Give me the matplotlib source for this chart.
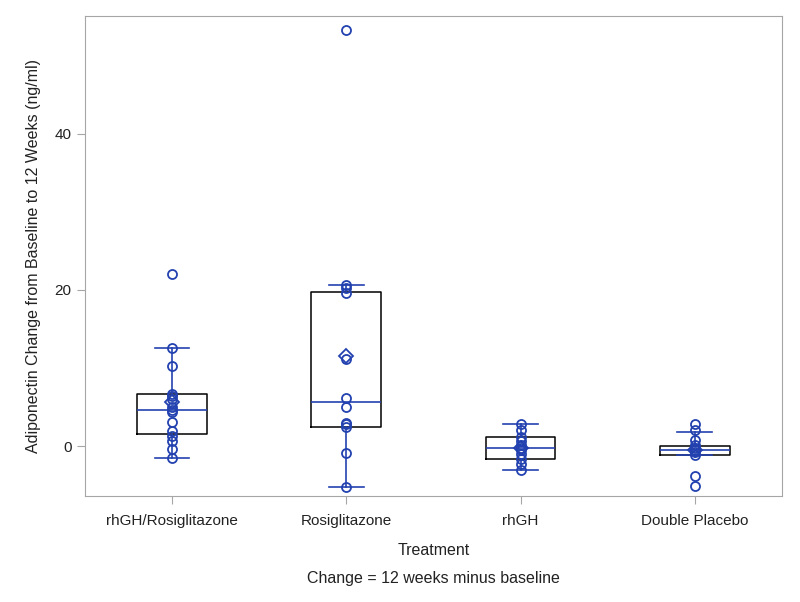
import matplotlib
matplotlib.use("Agg")
import matplotlib.pyplot as plt
import numpy as np

plt.rcParams['font.family'] = ['Liberation Sans', 'DejaVu Sans']

treatments = ["rhGH/Rosiglitazone", "Rosiglitazone", "rhGH", "Double Placebo"]

# box statistics
q1 = [1.5, 2.5, -1.6, -1.1]
median = [4.6, 5.6, -0.2, -0.5]
q3 = [6.7, 19.8, 1.2, 0.05]
whis_lo = [-1.5, -5.2, -3.1, -1.1]
whis_hi = [12.6, 20.6, 2.8, 1.8]
means = [5.6, 11.5, -0.2, -0.5]

# individual observations
obs_combo = [22.0, 12.6, 10.2, 6.7, 6.4, 6.0, 5.0, 4.6, 4.4, 3.1, 1.9, 1.3, 0.6, -0.4, -1.5]
obs_rosi = [53.3, 20.6, 20.2, 19.6, 11.2, 6.2, 5.0, 3.0, 2.8, 2.5, -0.9, -5.2]
obs_rhgh = [2.8, 2.0, 1.2, 0.6, 0.2, -0.2, -0.5, -1.0, -1.6, -2.3, -3.1]
obs_placebo = [2.8, 2.0, 0.8, 0.1, -0.3, -0.5, -0.7, -1.2, -3.8, -5.1]
observations = [obs_combo, obs_rosi, obs_rhgh, obs_placebo]

blue = "#2342b0"
grey = "#a6a6a6"

fig = plt.figure(figsize=(8, 6.02), dpi=100)
ax = fig.add_axes([0.106, 0.176, 0.8715, 0.7974])

stats = []
for i, name in enumerate(treatments):
    stats.append({"label": name, "q1": q1[i], "med": median[i], "q3": q3[i],
                  "whislo": whis_lo[i], "whishi": whis_hi[i],
                  "mean": means[i], "fliers": []})

pos = np.arange(len(treatments))
ax.bxp(stats, positions=pos, widths=0.4, showmeans=True, showfliers=False,
       boxprops=dict(color="black", linewidth=1.1),
       medianprops=dict(color=blue, linewidth=1.2),
       whiskerprops=dict(color=blue, linewidth=1.2),
       capprops=dict(color=blue, linewidth=1.2),
       capwidths=0.2,
       meanprops=dict(marker="D", markerfacecolor="none", markeredgecolor=blue,
                      markersize=7, markeredgewidth=1.3))

for i, vals in enumerate(observations):
    ax.plot(np.full(len(vals), pos[i]), vals, linestyle="none", marker="o",
            markersize=6.5, markerfacecolor="none", markeredgecolor=blue,
            markeredgewidth=1.3)

ax.set_xlim(-0.5, 3.5)
ax.set_ylim(-6.4, 55.1)
ax.set_yticks([0, 20, 40])
ax.set_xticks(pos)
ax.set_xticklabels(treatments)

for s in ax.spines.values():
    s.set_color(grey)
ax.tick_params(colors=grey, labelcolor="#222222", labelsize=11, length=6)
ax.tick_params(axis="x", pad=7)

ax.set_xlabel("Treatment", fontsize=11.5, color="#222222", labelpad=11)
ax.set_ylabel("Adiponectin Change from Baseline to 12 Weeks (ng/ml)",
              fontsize=11.5, color="#222222", labelpad=10)
fig.text(0.5 * (0.106 + 0.9775), 1 - 579 / 602, "Change = 12 weeks minus baseline",
         ha="center", va="center", fontsize=11.5, color="#222222")

fig.savefig("out.png", dpi=100)
